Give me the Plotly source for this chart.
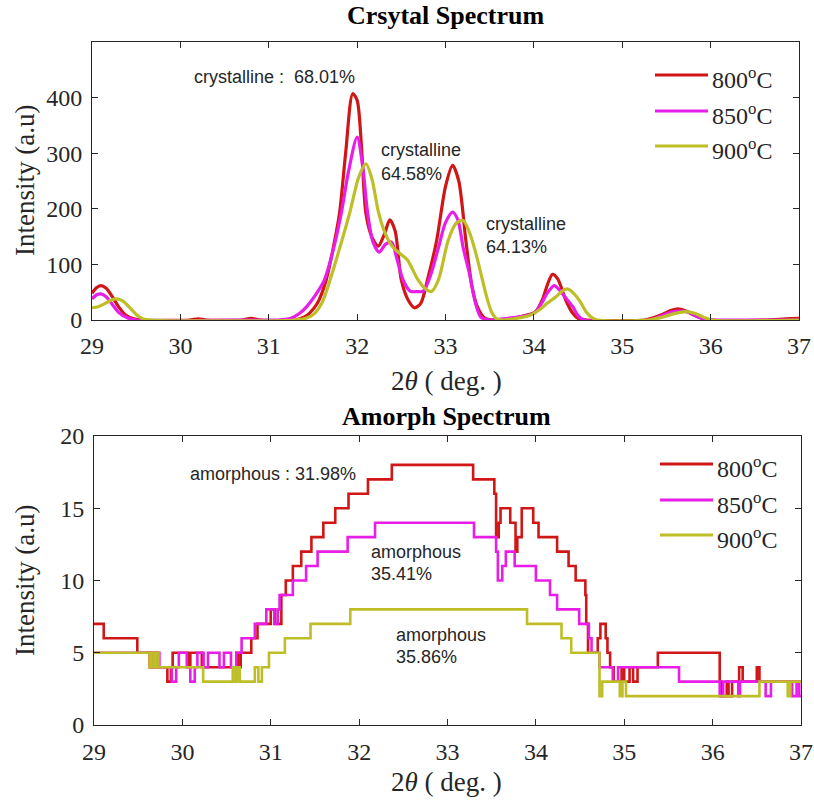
import plotly.graph_objects as go

# ---------------- data: crystal spectrum (2theta, intensity) ----------------
red_top = [(29.00,48),(29.05,58),(29.10,62),(29.16,57),(29.23,42),(29.30,24),(29.38,9),(29.47,2),(29.55,0),
           (30.10,0),(30.20,2),(30.30,0),(30.70,0),(30.80,3),(30.90,0),(31.30,0),(31.40,5),(31.46,12),
           (31.55,30),(31.65,72),(31.73,130),(31.80,191),(31.87,300),(31.95,407),(32.00,395),(32.05,310),
           (32.10,191),(32.17,148),(32.24,133),(32.31,155),(32.37,180),(32.43,160),(32.50,72),(32.58,35),
           (32.65,22),(32.72,30),(32.80,75),(32.90,143),(33.00,240),(33.08,278),(33.15,250),(33.23,143),
           (33.30,60),(33.36,24),(33.44,4),(33.55,0),(33.75,3),(33.90,8),(34.02,15),(34.10,38),(34.15,62),
           (34.21,82),(34.27,74),(34.36,36),(34.44,12),(34.51,2),(34.60,0),(35.25,0),(35.35,4),(35.45,10),
           (35.55,17),(35.63,20),(35.72,16),(35.82,8),(35.92,2),(36.00,0),(36.60,0),(36.85,2),(37.00,3)]
magenta_top = [(29.00,38),(29.05,45),(29.10,47),(29.16,42),(29.23,28),(29.30,14),(29.40,4),(29.50,0),(30.60,0),
               (31.10,0),(31.25,3),(31.35,12),(31.43,24),(31.53,45),(31.63,72),(31.72,120),(31.82,191),
               (31.90,265),(32.00,329),(32.06,280),(32.12,191),(32.18,140),(32.25,122),(32.32,136),(32.39,140),
               (32.45,110),(32.52,72),(32.60,52),(32.68,51),(32.75,52),(32.83,80),(32.92,130),(33.00,175),
               (33.08,194),(33.14,180),(33.20,130),(33.27,84),(33.34,30),(33.40,5),(33.50,0),(33.70,3),
               (33.85,6),(34.00,12),(34.08,28),(34.15,48),(34.23,62),(34.30,52),(34.37,38),(34.44,24),
               (34.50,8),(34.57,0),(35.30,0),(35.45,8),(35.55,14),(35.65,16),(35.75,14),(35.85,6),(35.95,1),
               (36.05,0),(37.00,0)]
olive_top = [(29.00,22),(29.07,24),(29.15,30),(29.22,36),(29.28,38),(29.35,34),(29.43,22),(29.50,10),(29.58,2),
             (29.65,0),(31.30,0),(31.42,3),(31.52,12),(31.60,30),(31.69,70),(31.80,128),(31.92,195),(32.02,258),
             (32.10,281),(32.17,252),(32.24,195),(32.32,155),(32.40,132),(32.48,120),(32.57,108),(32.63,90),
             (32.69,72),(32.76,58),(32.84,51),(32.92,72),(33.03,143),(33.12,174),(33.20,179),(33.27,158),
             (33.34,122),(33.40,84),(33.46,45),(33.52,15),(33.58,2),(33.65,0),(33.80,3),(33.95,8),(34.06,18),
             (34.15,30),(34.25,42),(34.32,52),(34.38,56),(34.45,48),(34.52,34),(34.59,15),(34.66,4),(34.72,0),
             (35.30,0),(35.45,5),(35.60,12),(35.72,15),(35.82,12),(35.92,5),(36.02,0),(37.00,0)]

# ---------------- data: amorphous spectrum (step start, level) ----------------
red_bot = [(29.00,7),(29.11,6),(29.49,5),(29.63,4),(29.65,5),(29.67,4),(29.70,5),(29.72,4),(29.83,3),(29.87,4),
           (29.89,5),(30.06,4),(30.09,5),(30.22,4),(30.61,5),(30.63,4),(30.66,5),(30.78,6),(30.85,7),(31.00,8),
           (31.05,7),(31.12,9),(31.17,10),(31.25,11),(31.345,12),(31.46,13),(31.595,14),(31.73,15),(31.88,16),
           (32.10,17),(32.37,18),(33.29,17),(33.53,16),(33.55,13),(33.58,14),(33.60,15),(33.71,14),(33.77,12),
           (33.79,13),(33.84,15),(33.97,14),(34.03,13),(34.24,12),(34.37,11),(34.45,10),(34.56,9),(34.57,7),
           (34.59,5),(34.70,6),(34.73,7),(34.79,6),(34.81,5),(34.84,4),(34.88,3),(34.97,4),(35.00,3),(35.06,4),
           (35.10,3),(35.15,4),(35.38,5),(36.08,3),(36.10,2),(36.16,3),(36.18,2),(36.22,3),(36.30,4),(36.34,3),
           (36.50,4),(36.53,3),(37.00,3)]
magenta_bot = [(29.00,5),(29.66,4),(29.70,5),(29.74,4),(29.88,3),(29.93,4),(29.96,5),(30.05,4),(30.09,3),(30.14,4),
               (30.17,5),(30.24,4),(30.29,5),(30.42,4),(30.47,5),(30.55,4),(30.61,5),(30.67,6),(30.82,7),(30.95,8),
               (31.04,7),(31.08,8),(31.10,9),(31.25,10),(31.40,11),(31.53,12),(31.87,13),(32.18,14),(33.30,13),
               (33.55,12),(33.57,10),(33.62,11),(33.66,12),(33.76,11),(34.00,10),(34.16,9),(34.24,8),(34.49,7),
               (34.60,6),(34.63,5),(34.72,4),(34.87,3),(34.93,4),(35.62,3),(36.08,2),(36.12,3),(36.29,2),(36.31,3),
               (36.60,2),(36.66,3),(36.90,2),(36.95,3),(36.98,2),(37.00,2)]
olive_bot = [(29.00,5),(29.63,4),(29.65,5),(29.68,4),(29.70,5),(29.73,4),(30.235,3),(30.57,4),(30.60,3),(30.62,4),
             (30.65,3),(30.82,4),(30.86,3),(30.90,4),(30.98,5),(31.16,6),(31.45,7),(31.90,8),(33.90,7),(34.29,6),
             (34.40,5),(34.72,2),(34.75,3),(34.95,2),(34.98,3),(35.02,2),(36.53,3),(36.85,2),(36.88,3),(37.00,3)]

series_names = ["800<sup>o</sup>C", "850<sup>o</sup>C", "900<sup>o</sup>C"]
series_colors = ["rgb(208,22,22)", "rgb(232,30,232)", "rgb(190,190,38)"]

x_ticks = [29, 30, 31, 32, 33, 34, 35, 36, 37]
top_y_ticks = [0, 100, 200, 300, 400]
bot_y_ticks = [0, 5, 10, 15, 20]

top_labels = [("crystalline :  68.01%", 31.07, 437, "center"),
              ("crystalline", 32.25, 305, "left"), ("64.58%", 32.25, 263, "left"),
              ("crystalline", 33.44, 172, "left"), ("64.13%", 33.44, 131, "left")]
bot_labels = [("amorphous : 31.98%", 31.02, 17.37, "center"),
              ("amorphous", 32.107, 11.97, "left"), ("35.41%", 32.107, 10.45, "left"),
              ("amorphous", 32.40, 6.23, "left"), ("35.86%", 32.40, 4.71, "left")]

SERIF = "Times New Roman, Liberation Serif, serif"
SANS = "Arial, Liberation Sans, sans-serif"
TXT = "#262626"

fig = go.Figure()
for pts, name, col in zip([red_top, magenta_top, olive_top], series_names, series_colors):
    xs, ys = zip(*pts)
    fig.add_trace(go.Scatter(x=xs, y=ys, mode="lines", name=name, showlegend=False,
                             line=dict(color=col, width=3.2, shape="spline", smoothing=0.8),
                             xaxis="x", yaxis="y"))
for pts, name, col in zip([red_bot, magenta_bot, olive_bot], series_names, series_colors):
    xs, ys = zip(*pts)
    fig.add_trace(go.Scatter(x=xs, y=ys, mode="lines", name=name, showlegend=False,
                             line=dict(color=col, width=2.6, shape="hv"),
                             xaxis="x2", yaxis="y2"))

W, H = 814, 802
def px(x): return x / W
def py(y): return 1 - y / H

axis_common = dict(showline=True, linecolor=TXT, linewidth=1, mirror="ticks", ticks="inside",
                   ticklen=6, tickcolor=TXT, showgrid=False, zeroline=False,
                   tickfont=dict(family=SERIF, size=24, color=TXT), automargin=False)

fig.update_layout(
    width=W, height=H, template="none",
    margin=dict(l=0, r=0, t=0, b=0),
    paper_bgcolor="white", plot_bgcolor="white",
    xaxis=dict(domain=[px(92), px(799)], range=[29, 37], tickvals=x_ticks, anchor="y",
               ticklabelstandoff=4, **axis_common),
    yaxis=dict(domain=[py(320), py(42)], range=[0, 500], tickvals=top_y_ticks, anchor="x",
               ticklabelstandoff=4, **axis_common),
    xaxis2=dict(domain=[px(94), px(801)], range=[29, 37], tickvals=x_ticks, anchor="y2",
                ticklabelstandoff=5, **axis_common),
    yaxis2=dict(domain=[py(725), py(436)], range=[0, 20], tickvals=bot_y_ticks, anchor="x2",
                ticklabelstandoff=4, **axis_common),
)

ann = []
# titles
ann.append(dict(text="<b>Crsytal Spectrum</b>", x=px(445), y=py(16), xref="paper", yref="paper",
                showarrow=False, font=dict(family=SERIF, size=26, color="black"), yanchor="middle"))
ann.append(dict(text="<b>Amorph Spectrum</b>", x=px(446), y=py(416), xref="paper", yref="paper",
                showarrow=False, font=dict(family=SERIF, size=26, color="black"), yanchor="middle"))
# axis titles
for yc in (181, 581):
    ann.append(dict(text="Intensity (a.u)", x=px(25), y=py(yc), xref="paper", yref="paper", textangle=-90,
                    showarrow=False, font=dict(family=SERIF, size=27, color=TXT),
                    xanchor="center", yanchor="middle"))
for yc in (381, 782):
    ann.append(dict(text="2<i>θ</i> ( deg. )", x=px(447), y=py(yc), xref="paper", yref="paper",
                    showarrow=False, font=dict(family=SERIF, size=27, color=TXT),
                    xanchor="center", yanchor="middle"))
# data labels
for t, x, y, a in top_labels:
    ann.append(dict(text=t, x=x, y=y, xref="x", yref="y", showarrow=False, xanchor=a, yanchor="middle",
                    font=dict(family=SANS, size=18, color=TXT)))
for t, x, y, a in bot_labels:
    ann.append(dict(text=t, x=x, y=y, xref="x2", yref="y2", showarrow=False, xanchor=a, yanchor="middle",
                    font=dict(family=SANS, size=18, color=TXT)))

# manual legends
shapes = []
legend_sets = [((655, 708), (75, 111, 146)), ((660, 713), (464, 500, 535))]
for (x0, x1), ys in legend_sets:
    for yy, name, col in zip(ys, series_names, series_colors):
        shapes.append(dict(type="line", xref="paper", yref="paper", x0=px(x0), x1=px(x1), y0=py(yy), y1=py(yy),
                           line=dict(color=col, width=3.2)))
        ann.append(dict(text=name, x=px(x1 + 2), y=py(yy + 3), xref="paper", yref="paper", showarrow=False,
                        xanchor="left", yanchor="middle", font=dict(family=SERIF, size=24, color=TXT)))

fig.update_layout(annotations=ann, shapes=shapes)
fig.write_html("out.html")
